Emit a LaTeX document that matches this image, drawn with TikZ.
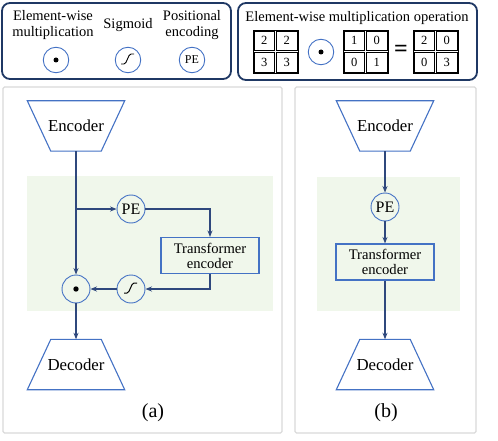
\documentclass[tikz,border=0pt]{standalone}
\usepackage{fontspec}
\setmainfont{Liberation Serif}
\usepackage{tikz}
\usetikzlibrary{arrows.meta,calc}
\definecolor{navy}{RGB}{31,56,100}
\definecolor{edge}{RGB}{68,114,196}
\definecolor{link}{RGB}{47,72,125}
\definecolor{panel}{RGB}{217,217,217}
\definecolor{zone}{RGB}{240,247,235}

\begin{document}
\begin{tikzpicture}[x=1pt,y=-1pt,
    legend/.style={draw=navy, line width=1.8pt, rounded corners=8pt},
    frame/.style={draw=panel, line width=1.2pt, rounded corners=1.5pt},
    op/.style={circle, draw=edge, line width=0.9pt, minimum size=28pt, inner sep=0pt, font=\fontsize{16}{16}\selectfont},
    smallop/.style={op, minimum size=25.5pt, font=\fontsize{12}{12}\selectfont},
    coder/.style={rectangle, minimum width=97pt, minimum height=50pt, inner sep=0pt, font=\fontsize{16.8}{18}\selectfont},
    rim/.style={draw=edge, line width=1.1pt, line join=miter},
    tfm/.style={rectangle, draw=edge, line width=1.1pt, minimum width=98pt, minimum height=36pt, inner sep=0pt, align=center, font=\fontsize{14.6}{15}\selectfont},
    cell/.style={draw, line width=0.6pt, minimum width=20.5pt, minimum height=19.5pt, inner sep=0pt, font=\fontsize{12.5}{13}\selectfont},
    caption/.style={align=center, font=\fontsize{14.5}{16}\selectfont},
    flow/.style={draw=link, line width=1.1pt, -{Stealth[length=6.5pt,width=5pt]}},
]
    \useasboundingbox (0,0) rectangle (498,441);
    %% Legend
    \draw[legend] (2,3) rectangle (231,79);
    \draw[legend] (238,3) rectangle (477,80);
    \node[caption] (lmul) at (53,25) {Element-wise\\multiplication};
    \node[caption] (lsig) at (128,25) {Sigmoid};
    \node[caption] (lpe) at (192,25) {Positional\\encoding};
    \node[smallop] (kdot) at (56,60) {};
    \node[smallop] (ksig) at (128,60) {};
    \node[smallop] (kpe) at (192,60) {PE};
    \fill (kdot) circle (2.5pt);
    \draw[line width=0.9pt] ($(ksig)+(-7,4)$) -- ++(3,0) .. controls +(3,0) and +(-3,0) .. ++(7,-10) -- ++(3,0);
    %% Element-wise product
    \node[caption] (ltitle) at (357,18) {Element-wise multiplication operation};
    \foreach \mx/\a/\b/\c/\d [count=\i] in {275.5/2/2/3/3, 365.5/1/0/0/1, 435.5/2/0/0/3} {
        \node[draw, line width=0.6pt, minimum width=45pt, minimum height=43pt] (mat\i) at (\mx,51.5) {};
        \node[cell] (mat\i-11) at ($(mat\i.center)+(-11.25,-10.75)$) {\a};
        \node[cell] (mat\i-12) at ($(mat\i.center)+(11.25,-10.75)$) {\b};
        \node[cell] (mat\i-21) at ($(mat\i.center)+(-11.25,10.75)$) {\c};
        \node[cell] (mat\i-22) at ($(mat\i.center)+(11.25,10.75)$) {\d};
    }
    \node[smallop] (mdot) at (321,52) {};
    \fill (mdot) circle (2.5pt);
    \node[font=\fontsize{24}{24}\selectfont\bfseries] (equal) at (401,51) {=};
    %% Panels
    \draw[frame] (3,87) rectangle (282,433);
    \draw[frame] (295,87) rectangle (476,433);
    \fill[zone] (27,176) rectangle (273,311);
    \fill[zone] (317,177) rectangle (460,311);
    %% (a)
    \node[coder] (enc) at (76,126) {Encoder};
    \node[op] (pe) at (131,209) {PE};
    \node[tfm] (te) at (210,255.5) {Transformer\\encoder};
    \node[op] (sig) at (131,289) {};
    \node[op] (dot) at (76,289) {};
    \node[coder] (dec) at (76,364.5) {Decoder};
    \draw[rim] (enc.north west) -- (enc.north east) -- ($(enc.south east)+(-23.5,0)$) -- ($(enc.south west)+(23.5,0)$) -- cycle;
    \draw[rim] (dec.south west) -- (dec.south east) -- ($(dec.north east)+(-23.5,0)$) -- ($(dec.north west)+(23.5,0)$) -- cycle;
    \fill (dot) circle (2.7pt);
    \draw[line width=1pt] ($(sig)+(-7,4)$) -- ++(3,0) .. controls +(3,0) and +(-3,0) .. ++(7,-10) -- ++(3,0);
    \draw[flow] (enc.south) -- (dot.north);
    \draw[flow] (enc.south |- pe) -- (pe.west);
    \draw[flow] (pe.east) -| (te.north);
    \draw[flow] (te.south) |- (sig.east);
    \draw[flow] (sig.west) -- (dot.east);
    \draw[flow] (dot.south) -- (dec.north);
    \node[font=\fontsize{20}{20}\selectfont] (capa) at (153,413) {(a)};
    %% (b)
    \node[coder] (enc2) at (385,126) {Encoder};
    \node[op] (pe2) at (385,207) {PE};
    \node[tfm] (te2) at (385,262) {Transformer\\encoder};
    \node[coder] (dec2) at (385,364.5) {Decoder};
    \draw[rim] (enc2.north west) -- (enc2.north east) -- ($(enc2.south east)+(-23.5,0)$) -- ($(enc2.south west)+(23.5,0)$) -- cycle;
    \draw[rim] (dec2.south west) -- (dec2.south east) -- ($(dec2.north east)+(-23.5,0)$) -- ($(dec2.north west)+(23.5,0)$) -- cycle;
    \draw[flow] (enc2.south) -- (pe2.north);
    \draw[flow] (pe2.south) -- (te2.north);
    \draw[flow] (te2.south) -- (dec2.north);
    \node[font=\fontsize{20}{20}\selectfont] (capb) at (386,413) {(b)};
\end{tikzpicture}
\end{document}
